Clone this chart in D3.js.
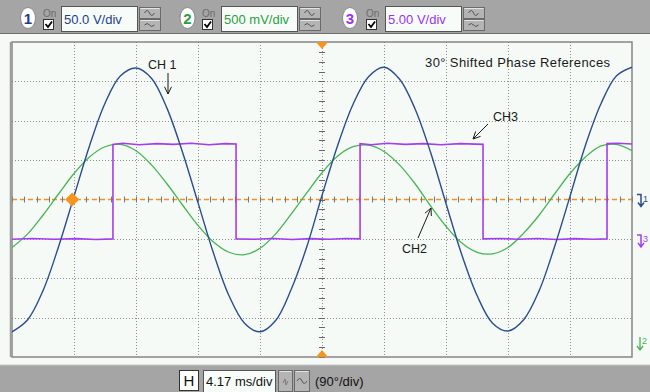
<!DOCTYPE html>
<html><head><meta charset="utf-8">
<script src="https://cdn.jsdelivr.net/npm/d3@7"></script>
<style>body{margin:0;overflow:hidden;background:#f5faf7}svg{display:block}text{font-family:"Liberation Sans",Arial,sans-serif}</style>
</head><body><svg id="c" width="650" height="392"></svg>
<script>
// ---------------- data ----------------
const times = [-20.85,-19.81,-18.77,-17.72,-16.68,-15.64,-14.60,-13.55,-12.51,-11.47,-10.43,-9.38,-8.34,-7.30,-6.26,-5.21,-4.17,-3.13,-2.09,-1.04,0,1.04,2.09,3.13,4.17,5.21,6.26,7.30,8.34,9.38,10.43,11.47,12.51,13.55,14.60,15.64,16.68,17.72,18.77,19.81,20.85];
const ch1Volts = [-168,-153,-116,-60,4,68,122,157,167,154,116,60,-4,-68,-122,-157,-168,-154,-115,-61,5,68,121,156,168,153,115,60,-5,-69,-122,-157,-167,-153,-116,-60,4,69,122,157,168];
const ch2Volts = [-0.61,-0.44,-0.20,0.07,0.33,0.54,0.67,0.70,0.62,0.44,0.20,-0.07,-0.33,-0.54,-0.67,-0.70,-0.62,-0.44,-0.19,0.08,0.34,0.55,0.67,0.69,0.61,0.44,0.20,-0.08,-0.34,-0.55,-0.67,-0.69,-0.61,-0.43,-0.20,0.07,0.33,0.54,0.68,0.70,0.62];
const ch3Times = [-20.85,-19.5,-18.0,-16.5,-15.2,-14.06,-14.06,-13.4,-12.3,-11.1,-10.0,-8.8,-7.6,-6.5,-5.78,-5.78,-4.6,-3.3,-2.0,-0.8,0.5,1.6,2.56,2.56,3.3,4.4,5.6,6.8,8.0,9.3,10.83,10.83,12.0,13.2,14.5,15.8,17.0,18.2,19.17,19.17,19.9,20.85];
const ch3Volts = [-0.05,0.05,-0.05,0.03,-0.08,0,12.0,12.15,11.95,12.1,12.0,12.15,11.95,12.1,12.05,0,-0.05,0.05,-0.08,0.03,-0.05,0.05,0,12.1,11.95,12.15,12.0,12.1,11.95,12.1,12.0,0,0.05,-0.05,0.05,-0.08,0.03,-0.05,0,12.1,12.15,12.05];
const channelNames = ["1","2","3"];
const channelScaleLabels = ["50.0 V/div","500 mV/div","5.00 V/div"];
const voltsPerDiv = [50, 0.5, 5];
const offsetDiv = [0, 0, -1];
const timebaseLabel = "4.17 ms/div";
const phaseLabel = "(90°/div)";
const titleLabel = "30° Shifted Phase References";
const traceLabels = ["CH 1","CH2","CH3"];
const trigger = {time:-16.8, level:0};

// ---------------- styles ----------------
const colors = ["#2b4d8f","#45b552","#a43cf0"];
const labelColors = ["#1c3c8c","#2a9f3e","#9b33ee"];
const W = 650, H = 392;
const L = 12, R = 632, T = 42, B = 357;
const svg = d3.select("#c");

const x = d3.scaleLinear().domain([-20.85, 20.85]).range([L, R]);
const y = d3.scaleLinear().domain([-4, 4]).range([B, T]);
const cy = y(0);

// backgrounds
svg.append("rect").attr("width",W).attr("height",H).attr("fill","#f5faf7");
svg.append("rect").attr("x",0).attr("y",0).attr("width",W).attr("height",33).attr("fill","#a5a5a5");
svg.append("line").attr("x1",0).attr("x2",W).attr("y1",33.5).attr("y2",33.5).attr("stroke","#6e6e6e");
svg.append("rect").attr("x",0).attr("y",365).attr("width",W).attr("height",H-365).attr("fill","#a5a5a5");
svg.append("line").attr("x1",0).attr("x2",W).attr("y1",365).attr("y2",365).attr("stroke","#c8c8c8");

// grid
const g = svg.append("g");
const vDivs = d3.range(-20.85+4.17, 20.85-0.1, 4.17);
g.selectAll(".vg").data(vDivs).join("line")
  .attr("x1",d=>Math.round(x(d))+0.5).attr("x2",d=>Math.round(x(d))+0.5).attr("y1",T).attr("y2",B)
  .attr("stroke","#8f8f8f").attr("stroke-dasharray","1,2");
const hDivs = d3.range(-3, 4, 1).filter(d=>d!==0);
g.selectAll(".hg").data(hDivs).join("line")
  .attr("x1",L).attr("x2",R).attr("y1",d=>Math.round(y(d))+0.5).attr("y2",d=>Math.round(y(d))+0.5)
  .attr("stroke","#8f8f8f").attr("stroke-dasharray","1,2");
// center horizontal dashed orange
g.append("line").attr("x1",L).attr("x2",R).attr("y1",cy).attr("y2",cy)
  .attr("stroke","#f0922a").attr("stroke-width",1.5).attr("stroke-dasharray","5,3");
// minor ticks along center lines
const hTicks = d3.range(-20.85, 20.86, 4.17/5);
g.selectAll(".ht").data(hTicks).join("line")
  .attr("x1",d=>Math.round(x(d))+0.5).attr("x2",d=>Math.round(x(d))+0.5).attr("y1",cy-3).attr("y2",cy+3)
  .attr("stroke","#777");
const vTicks = d3.range(-4, 4.01, 0.25);
g.selectAll(".vt").data(vTicks).join("line")
  .attr("x1",x(0)-3).attr("x2",x(0)+3).attr("y1",d=>Math.round(y(d))+0.5).attr("y2",d=>Math.round(y(d))+0.5)
  .attr("stroke","#666");

// plot border
svg.append("rect").attr("x",L).attr("y",T).attr("width",R-L).attr("height",B-T)
  .attr("fill","none").attr("stroke","#858585").attr("stroke-width",1.5);
svg.append("line").attr("x1",L-1.5).attr("x2",L-1.5).attr("y1",T).attr("y2",B).attr("stroke","#9a9a9a").attr("stroke-width",1.5);

// traces
svg.append("clipPath").attr("id","pc").append("rect").attr("x",L).attr("y",T-1).attr("width",R-L).attr("height",B-T+2);
const yv = (v, c) => y(v / voltsPerDiv[c] + offsetDiv[c]);
const smooth = d3.line().curve(d3.curveCatmullRom.alpha(0.5));
const straight = d3.line();
const traces = svg.append("g").attr("clip-path","url(#pc)");
traces.append("path").attr("d", smooth(times.map((t,i)=>[x(t), yv(ch2Volts[i],1)])))
  .attr("fill","none").attr("stroke",colors[1]).attr("stroke-width",1.3);
traces.append("path").attr("d", straight(ch3Times.map((t,i)=>[x(t), yv(ch3Volts[i],2)])))
  .attr("fill","none").attr("stroke",colors[2]).attr("stroke-width",1.6);
traces.append("path").attr("d", smooth(times.map((t,i)=>[x(t), yv(ch1Volts[i],0)])))
  .attr("fill","none").attr("stroke",colors[0]).attr("stroke-width",1.4);

// markers: trigger diamond, time reference triangles
const tx = x(trigger.time), ty = yv(trigger.level,0);
svg.append("path").attr("d",`M${tx},${ty-7}L${tx+7},${ty}L${tx},${ty+7}L${tx-7},${ty}Z`).attr("fill","#f7931e");
const x0 = x(0);
svg.append("path").attr("d",`M${x0-6},${T}L${x0+6},${T}L${x0},${T+7}Z`).attr("fill","#f7931e");
svg.append("path").attr("d",`M${x0-6},${B}L${x0+6},${B}L${x0},${B-7}Z`).attr("fill","#f7931e");

// annotations
const ann = svg.append("g").attr("font-size",12).attr("fill","#1a1a1a");
ann.append("text").attr("x",148).attr("y",69).attr("font-size",12.5).text(traceLabels[0]);
ann.append("text").attr("x",425).attr("y",67).attr("font-size",13).attr("letter-spacing",0.4).text(titleLabel);
ann.append("text").attr("x",493).attr("y",121).attr("font-size",12.5).text(traceLabels[2]);
ann.append("text").attr("x",402).attr("y",253).attr("font-size",12.5).text(traceLabels[1]);
const arrow = (x1,y1,x2,y2) => {
  const a = Math.atan2(y2-y1, x2-x1), h = 8, s = 0.45;
  const p = `M${x1},${y1}L${x2},${y2}M${x2-h*Math.cos(a-s)},${y2-h*Math.sin(a-s)}L${x2},${y2}L${x2-h*Math.cos(a+s)},${y2-h*Math.sin(a+s)}`;
  svg.append("path").attr("d",p).attr("fill","none").attr("stroke","#1a1a1a").attr("stroke-width",1);
};
arrow(168,73,168,94);
arrow(488,124,473,139);
arrow(418,238,431,208);

// right side channel markers
const mk = (yy, c) => {
  const m = svg.append("g").attr("stroke",colors[c]).attr("fill","none").attr("stroke-width",1.5);
  m.append("path").attr("d",`M637,${yy-5}L641,${yy-5}L641,${yy+7}M638,${yy+3}L641,${yy+7}L644,${yy+3}`);
  svg.append("text").attr("x",643).attr("y",yy+2).attr("font-size",9).attr("fill",colors[c]).text(channelNames[c]);
};
mk(cy, 0);
mk(yv(0,2)+1, 2);
// ch2 ground off-screen (below)
svg.append("path").attr("d","M640,337L640,350M637,346L640,350L643,346").attr("stroke",colors[1]).attr("fill","none").attr("stroke-width",1.3);
svg.append("text").attr("x",642).attr("y",344).attr("font-size",9).attr("fill",colors[1]).text(channelNames[1]);

// top control bar
const ovalCx = [28, 187.5, 350], onX = [43, 202, 366], boxX = [61, 221, 385], boxW = 76;
const btn = (bx, by, bw, bh) => {
  svg.append("rect").attr("x",bx).attr("y",by).attr("width",bw).attr("height",bh).attr("fill","#b4b4b4").attr("stroke","#6a6a6a");
  svg.append("line").attr("x1",bx+1).attr("x2",bx+bw-1).attr("y1",by+1).attr("y2",by+1).attr("stroke","#e4e4e4");
};
channelNames.forEach((n,i)=>{
  svg.append("ellipse").attr("cx",ovalCx[i]).attr("cy",18).attr("rx",7.5).attr("ry",10.5).attr("fill","#fff").attr("stroke","#8a8a8a");
  svg.append("text").attr("x",ovalCx[i]).attr("y",24).attr("text-anchor","middle").attr("font-size",15).attr("font-weight","bold").attr("fill",labelColors[i]).text(n);
  svg.append("text").attr("x",onX[i]).attr("y",17).attr("font-size",10).attr("fill","#6c6c6c").text("On");
  svg.append("rect").attr("x",onX[i]+0.5).attr("y",19.5).attr("width",10).attr("height",10).attr("fill","#fff").attr("stroke","#333");
  svg.append("path").attr("d",`M${onX[i]+2.5},${24}L${onX[i]+5},${27}L${onX[i]+9},${21.5}`).attr("stroke","#000").attr("stroke-width",1.8).attr("fill","none");
  svg.append("rect").attr("x",boxX[i]+0.5).attr("y",6.5).attr("width",boxW).attr("height",25).attr("fill","#f7fcf9").attr("stroke","#555");
  svg.append("text").attr("x",boxX[i]+3).attr("y",24).attr("font-size",13).attr("fill",labelColors[i]).text(channelScaleLabels[i]);
  const bx = boxX[i]+boxW+2.5;
  btn(bx, 7.5, 21, 11); btn(bx, 19.5, 21, 11);
  svg.append("path").attr("d",`M${bx+5},${13}q3,-5 5,0t5,0`).attr("stroke","#555").attr("fill","none");
  svg.append("path").attr("d",`M${bx+5},${25}q3,-3 5,0t5,0`).attr("stroke","#555").attr("fill","none");
});

// bottom bar
svg.append("rect").attr("x",179.5).attr("y",370.5).attr("width",19).attr("height",20).attr("fill","#fff").attr("stroke","#333");
svg.append("text").attr("x",189).attr("y",386).attr("text-anchor","middle").attr("font-size",15).attr("fill","#111").text("H");
svg.append("rect").attr("x",203.5).attr("y",370.5).attr("width",72).attr("height",22).attr("fill","#f7fcf9").attr("stroke","#555");
svg.append("text").attr("x",206).attr("y",386).attr("font-size",13).attr("fill","#111").text(timebaseLabel);
btn(278.5, 370.5, 14, 21); btn(294.5, 370.5, 15, 21);
svg.append("path").attr("d","M283,383l2,-4l1,6l2,-4").attr("stroke","#777").attr("fill","none");
svg.append("path").attr("d","M297,381q3,-5 5,0t5,0").attr("stroke","#555").attr("fill","none");
svg.append("text").attr("x",315).attr("y",386).attr("font-size",13).attr("fill","#111").text(phaseLabel);
</script></body></html>
